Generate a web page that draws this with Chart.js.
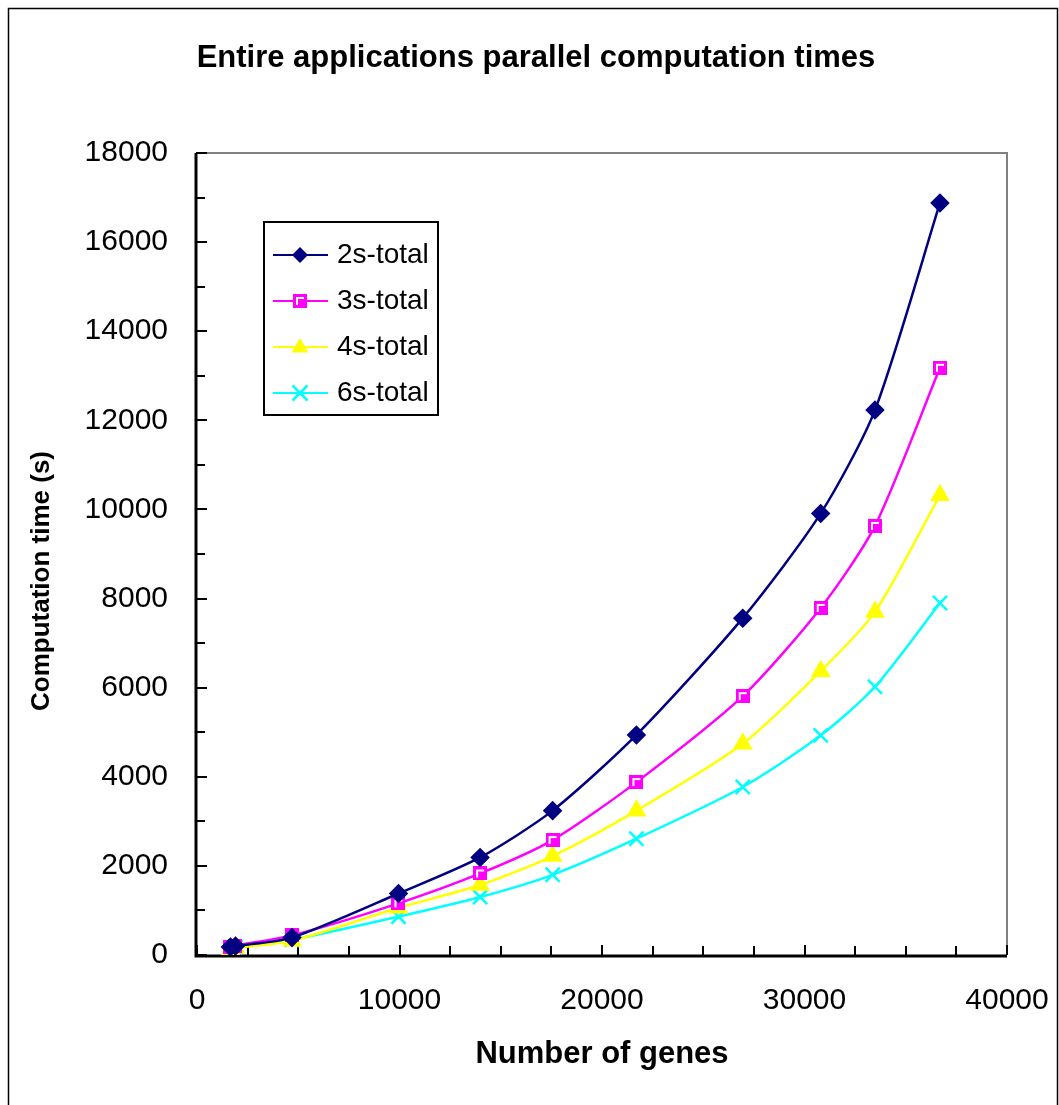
<!DOCTYPE html>
<html>
<head>
<meta charset="utf-8">
<script src="https://cdn.jsdelivr.net/npm/chart.js@4.4.1/dist/chart.umd.min.js"></script>
<style>
	html, body { margin: 0; padding: 0; background: #fff; }
	canvas { display: block; }
</style>
</head>
<body>
<canvas id="computeTimesChart" width="1059" height="1105"></canvas>
<script>
// values
const genes = [1650, 1900, 4690, 9950, 13980, 17560, 21700, 26950, 30800, 33480, 36690];
const total2s = [180, 200, 390, 1380, 2190, 3240, 4940, 7560, 9910, 12230, 16880];
const total3s = [170, 210, 440, 1160, 1830, 2580, 3880, 5810, 7790, 9630, 13180];
const total4s = [120, 160, 320, 1060, 1570, 2220, 3240, 4740, 6370, 7700, 10320];
const total6s = [150, 180, 340, 860, 1300, 1800, 2610, 3770, 4930, 6020, 7900];
const seriesNames = ['2s-total', '3s-total', '4s-total', '6s-total'];
const xTickValues = [0, 10000, 20000, 30000, 40000];
const yTickValues = [0, 2000, 4000, 6000, 8000, 10000, 12000, 14000, 16000, 18000];

const FONT = 'Arial, "Liberation Sans", sans-serif';

function toPoints(values) {
	return values.map((v, i) => ({ x: genes[i], y: v }));
}

// excel-like square marker: magenta with a white inner corner
function squareMarker() {
	const c = document.createElement('canvas');
	c.width = 14;
	c.height = 14;
	const g = c.getContext('2d');
	g.fillStyle = '#FF00FF';
	g.fillRect(0, 0, 14, 14);
	g.fillStyle = '#FFFFFF';
	g.fillRect(3, 3, 8, 2);
	g.fillRect(3, 3, 2, 8);
	return c;
}
const squareImg = squareMarker();

function series(label, values, color, style, radius) {
	return {
		label,
		data: toPoints(values),
		borderColor: color,
		backgroundColor: color,
		borderWidth: 2.5,
		pointStyle: style,
		pointRadius: radius,
		pointBorderWidth: 2.5,
		pointBorderColor: color,
		pointBackgroundColor: color,
		tension: 0.25,
		fill: false,
	};
}

function drawMarker(ctx, ds, x, y) {
	const r = ds.pointRadius;
	ctx.save();
	ctx.fillStyle = ds.pointBackgroundColor;
	ctx.strokeStyle = ds.pointBorderColor;
	ctx.lineWidth = ds.pointBorderWidth;
	ctx.beginPath();
	if (ds.pointStyle === 'rectRot') {
		ctx.moveTo(x, y - r);
		ctx.lineTo(x + r, y);
		ctx.lineTo(x, y + r);
		ctx.lineTo(x - r, y);
		ctx.closePath();
		ctx.fill();
	} else if (ds.pointStyle === 'triangle') {
		ctx.moveTo(x, y - r);
		ctx.lineTo(x + r * 0.95, y + r * 0.6);
		ctx.lineTo(x - r * 0.95, y + r * 0.6);
		ctx.closePath();
		ctx.fill();
	} else if (ds.pointStyle === 'crossRot') {
		const d = r * 0.75;
		ctx.moveTo(x - d, y - d);
		ctx.lineTo(x + d, y + d);
		ctx.moveTo(x + d, y - d);
		ctx.lineTo(x - d, y + d);
		ctx.stroke();
	} else {
		ctx.drawImage(ds.pointStyle, x - ds.pointStyle.width / 2, y - ds.pointStyle.height / 2);
	}
	ctx.restore();
}

const excelFrame = {
	id: 'excelFrame',
	beforeDatasetsDraw(chart) {
		const { ctx, chartArea: a, scales } = chart;
		ctx.save();
		// outer frame of the picture
		ctx.strokeStyle = '#000';
		ctx.lineWidth = 1.5;
		ctx.strokeRect(8.5, 8.5, 1049, 1110);
		// grey top and right edges of the plot area
		ctx.strokeStyle = '#808080';
		ctx.lineWidth = 2;
		ctx.beginPath();
		ctx.moveTo(a.left, a.top);
		ctx.lineTo(a.right, a.top);
		ctx.lineTo(a.right, a.bottom);
		ctx.stroke();
		// black axes
		ctx.strokeStyle = '#000';
		ctx.lineWidth = 3;
		ctx.beginPath();
		ctx.moveTo(a.left - 1, a.top);
		ctx.lineTo(a.left - 1, a.bottom + 1);
		ctx.lineTo(a.right, a.bottom + 1);
		ctx.stroke();
		// inside tick marks, minor ones in between
		ctx.lineWidth = 2;
		ctx.beginPath();
		for (let v = 0; v <= 18000; v += 1000) {
			const y = Math.round(scales.y.getPixelForValue(v));
			const len = v % 2000 === 0 ? 10 : 8;
			ctx.moveTo(a.left - 1, y);
			ctx.lineTo(a.left + len, y);
		}
		for (let v = 0; v <= 40000; v += 2500) {
			const x = Math.round(scales.x.getPixelForValue(v));
			const len = v % 10000 === 0 ? 10 : 9;
			ctx.moveTo(x, a.bottom);
			ctx.lineTo(x, a.bottom - len);
		}
		ctx.stroke();

		// titles
		ctx.fillStyle = '#000';
		ctx.textAlign = 'center';
		ctx.textBaseline = 'middle';
		ctx.font = `bold 31px ${FONT}`;
		ctx.fillText('Entire applications parallel computation times', 536, 58);
		ctx.fillText('Number of genes', (a.left + a.right) / 2, 1054);
		ctx.font = `bold 26px ${FONT}`;
		ctx.translate(42, 581);
		ctx.rotate(-Math.PI / 2);
		ctx.fillText('Computation time (s)', 0, 0);
		ctx.restore();
	},
	afterDraw(chart) {
		const { ctx, chartArea: a } = chart;
		const left = a.left + 67;
		const top = a.top + 69;
		ctx.save();
		ctx.fillStyle = '#fff';
		ctx.fillRect(left, top, 174, 193);
		ctx.strokeStyle = '#000';
		ctx.lineWidth = 2;
		ctx.strokeRect(left, top, 174, 193);
		ctx.font = `28px ${FONT}`;
		ctx.textBaseline = 'middle';
		ctx.textAlign = 'left';
		chart.data.datasets.forEach((ds, i) => {
			const y = top + 33 + i * 46;
			ctx.strokeStyle = ds.borderColor;
			ctx.lineWidth = 2;
			ctx.beginPath();
			ctx.moveTo(left + 9, y);
			ctx.lineTo(left + 64, y);
			ctx.stroke();
			drawMarker(ctx, ds, left + 36, y);
			ctx.fillStyle = '#000';
			ctx.fillText(ds.label, left + 73, y);
		});
		ctx.restore();
	},
};

const plainNumber = (v) => String(v);

const ctx = document.getElementById('computeTimesChart').getContext('2d');
new Chart(ctx, {
	type: 'line',
	data: {
		datasets: [
			series(seriesNames[0], total2s, '#000080', 'rectRot', 8),
			series(seriesNames[1], total3s, '#FF00FF', squareImg, 7),
			series(seriesNames[2], total4s, '#FFFF00', 'triangle', 9),
			series(seriesNames[3], total6s, '#00FFFF', 'crossRot', 10),
		],
	},
	options: {
		responsive: false,
		animation: false,
		layout: {
			padding: { left: 0, top: 153, right: 52, bottom: 0 },
		},
		plugins: {
			legend: { display: false },
			title: { display: false },
			tooltip: { enabled: false },
		},
		scales: {
			x: {
				type: 'linear',
				min: 0,
				max: 40000,
				afterFit: (s) => {
					s.height = 150;
					s.paddingLeft = 0;
					s.paddingRight = 0;
				},
				afterBuildTicks: (s) => { s.ticks = xTickValues.map((v) => ({ value: v })); },
				grid: { display: false, drawTicks: false },
				border: { display: false },
				ticks: {
					color: '#000',
					font: { family: FONT, size: 30 },
					padding: 28,
					maxRotation: 0,
					autoSkip: false,
					callback: plainNumber,
				},
			},
			y: {
				type: 'linear',
				min: 0,
				max: 18000,
				afterFit: (s) => {
					s.width = 197;
					s.paddingTop = 0;
					s.paddingBottom = 0;
				},
				afterBuildTicks: (s) => { s.ticks = yTickValues.map((v) => ({ value: v })); },
				grid: { display: false, drawTicks: false },
				border: { display: false },
				ticks: {
					color: '#000',
					font: { family: FONT, size: 30 },
					padding: 29,
					autoSkip: false,
					callback: plainNumber,
				},
			},
		},
	},
	plugins: [excelFrame],
});
</script>
</body>
</html>
